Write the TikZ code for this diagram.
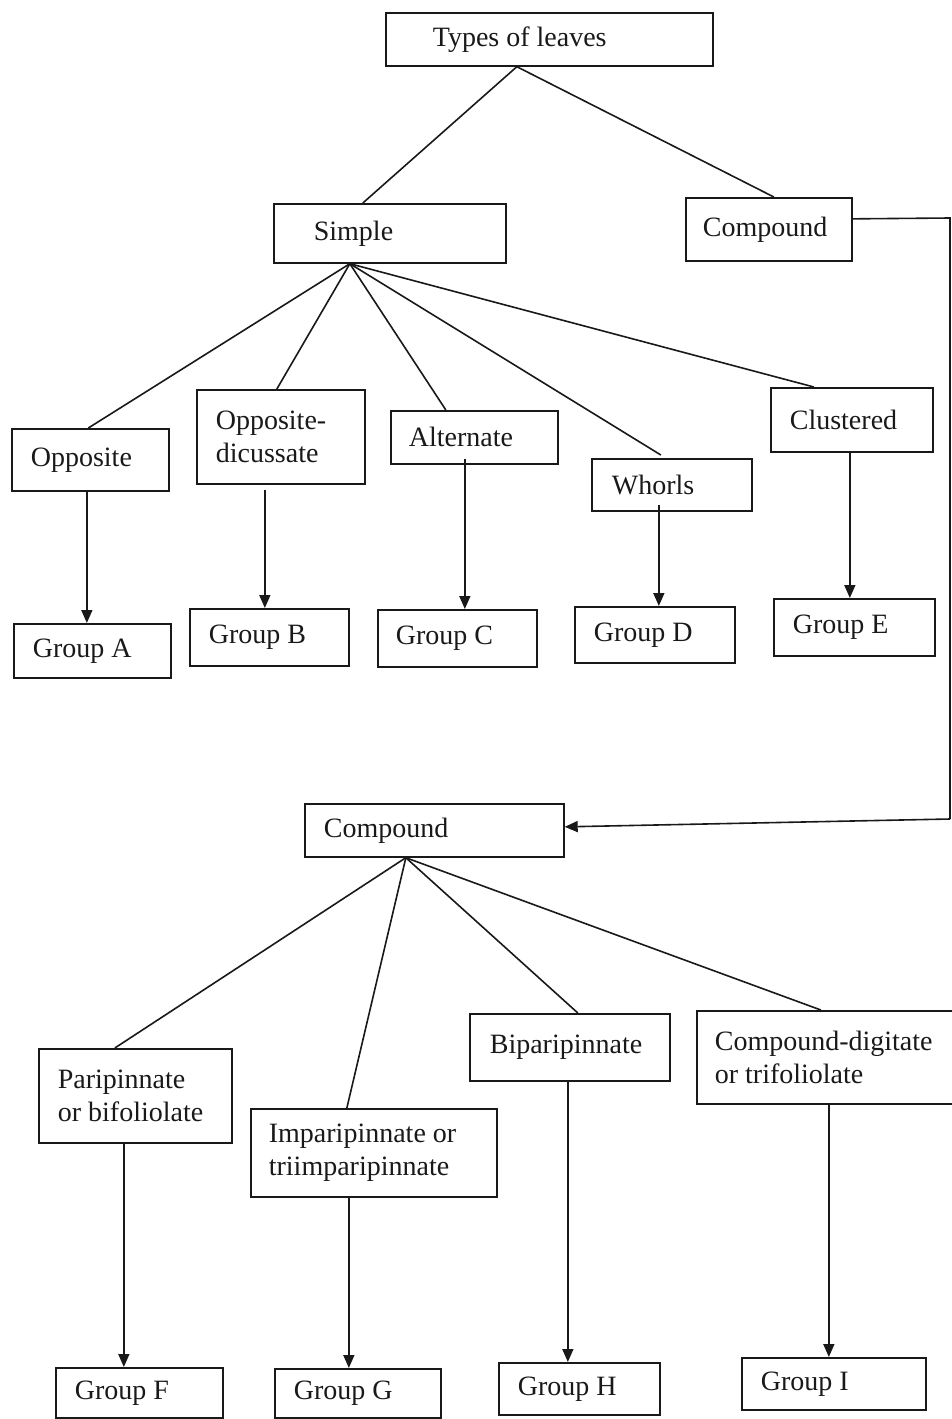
\documentclass[tikz,border=0pt]{standalone}
\usepackage{fontspec}
\setmainfont{Liberation Serif}
\usetikzlibrary{arrows.meta}
\tikzset{
  leaf/.style={draw, line width=1.7pt, anchor=north west, align=flush left, inner ysep=0pt, inner xsep=19pt, font=\fontsize{28}{33}\selectfont},
  link/.style={line width=1.6pt},
  arr/.style={line width=1.6pt, -{Triangle[length=13pt,width=11pt]}}
}
\begin{document}
\begin{tikzpicture}[x=1pt, y=-1pt, black!90]
\useasboundingbox (0,0) rectangle (952,1419);
\node[leaf, inner xsep=47pt, text width=233pt, minimum height=53pt] (types) at (385,12){Types of leaves};
\node[leaf, inner xsep=40pt, text width=152pt, minimum height=59pt] (simple) at (273,203){Simple};
\node[leaf, inner xsep=17pt, text width=132pt, minimum height=63pt] (comp) at (685,197){Compound};
\draw[link]([xshift=-32.5pt]types.south) -- ([xshift=-27pt]simple.north);
\draw[link]([xshift=-32.5pt]types.south) -- ([xshift=5pt]comp.north);
\node[leaf, text width=119pt, minimum height=62pt] (opp) at (11,428){Opposite};
\node[leaf, text width=130pt, minimum height=94pt] (oppdic) at (196,389){Opposite-\\dicussate};
\node[leaf, inner xsep=18pt, text width=131pt, minimum height=53pt] (alt) at (390,410){Alternate};
\node[leaf, inner xsep=20pt, text width=120pt, minimum height=52pt] (whorls) at (591,458){Whorls};
\node[leaf, text width=124pt, minimum height=64pt] (clust) at (770,387){Clustered};
\draw[link]([xshift=-40pt]simple.south) -- ([xshift=-2pt]opp.north);
\draw[link]([xshift=-40pt]simple.south) -- ([xshift=-4pt]oppdic.north);
\draw[link]([xshift=-40pt]simple.south) -- ([xshift=-28.5pt]alt.north);
\draw[link]([xshift=-40pt]simple.south) -- ([xshift=-11pt,yshift=3pt]whorls.north);
\draw[link]([xshift=-40pt]simple.south) -- ([xshift=-38pt]clust.north);
\node[leaf, text width=119pt, minimum height=54pt] (grpA) at (13,623){Group A};
\node[leaf, text width=121pt, minimum height=57pt] (grpB) at (189,608){Group B};
\node[leaf, inner xsep=18pt, text width=123pt, minimum height=57pt] (grpC) at (377,609){Group C};
\node[leaf, text width=122pt, minimum height=56pt] (grpD) at (574,606){Group D};
\node[leaf, text width=123pt, minimum height=57pt] (grpE) at (773,598){Group E};
\draw[arr]([xshift=-3.5pt]opp.south) -- ([xshift=-5.5pt]grpA.north);
\draw[arr]([xshift=-16pt,yshift=-5pt]oppdic.south) -- ([xshift=-4.5pt]grpB.north);
\draw[arr]([xshift=-9.5pt,yshift=6pt]alt.south) -- ([xshift=7.5pt]grpC.north);
\draw[arr]([xshift=-13pt,yshift=7pt]whorls.south) -- ([xshift=4pt]grpD.north);
\draw[arr]([xshift=-2pt]clust.south) -- ([xshift=-4.5pt]grpE.north);
% link from the first Compound down to the second one
\node[leaf, text width=221pt, minimum height=53pt] (compb) at (304,803){Compound};
\coordinate (rtop) at (950,218);
\coordinate (rbot) at (950,819);
\draw[link]([yshift=10.5pt]comp.east) -- (rtop) -- (rbot);
\draw[arr](rbot) -- ([yshift=3.5pt]compb.east);
\node[leaf, text width=155pt, minimum height=94pt] (pari) at (38,1048){Paripinnate\\or bifoliolate};
\node[leaf, inner xsep=18pt, text width=210pt, minimum height=88pt] (impari) at (250,1108){Imparipinnate or\\triimparipinnate};
\node[leaf, inner xsep=20pt, text width=160pt, minimum height=67pt] (bipari) at (469,1013){Biparipinnate};
\node[leaf, inner xsep=18pt, text width=220pt, minimum height=93pt] (compdig) at (696,1010){Compound-digitate\\or trifoliolate};
\draw[link]([xshift=-28.5pt]compb.south) -- ([xshift=-20.5pt]pari.north);
\draw[link]([xshift=-28.5pt]compb.south) -- ([xshift=-27pt]impari.north);
\draw[link]([xshift=-28.5pt]compb.south) -- ([xshift=8pt]bipari.north);
\draw[link]([xshift=-28.5pt]compb.south) -- ([xshift=-4pt]compdig.north);
\node[leaf, text width=129pt, minimum height=50pt] (grpF) at (55,1367){Group F};
\node[leaf, text width=128pt, minimum height=49pt] (grpG) at (274,1368){Group G};
\node[leaf, text width=123pt, minimum height=52pt] (grpH) at (498,1362){Group H};
\node[leaf, text width=146pt, minimum height=52pt] (grpI) at (741,1357){Group I};
\draw[arr]([xshift=-11.5pt]pari.south) -- ([xshift=-15.5pt]grpF.north);
\draw[arr]([xshift=-25pt]impari.south) -- ([xshift=-9pt]grpG.north);
\draw[arr]([xshift=-2pt]bipari.south) -- ([xshift=-11.5pt]grpH.north);
\draw[arr]([xshift=4pt]compdig.south) -- ([xshift=-5pt]grpI.north);
\end{tikzpicture}
\end{document}
